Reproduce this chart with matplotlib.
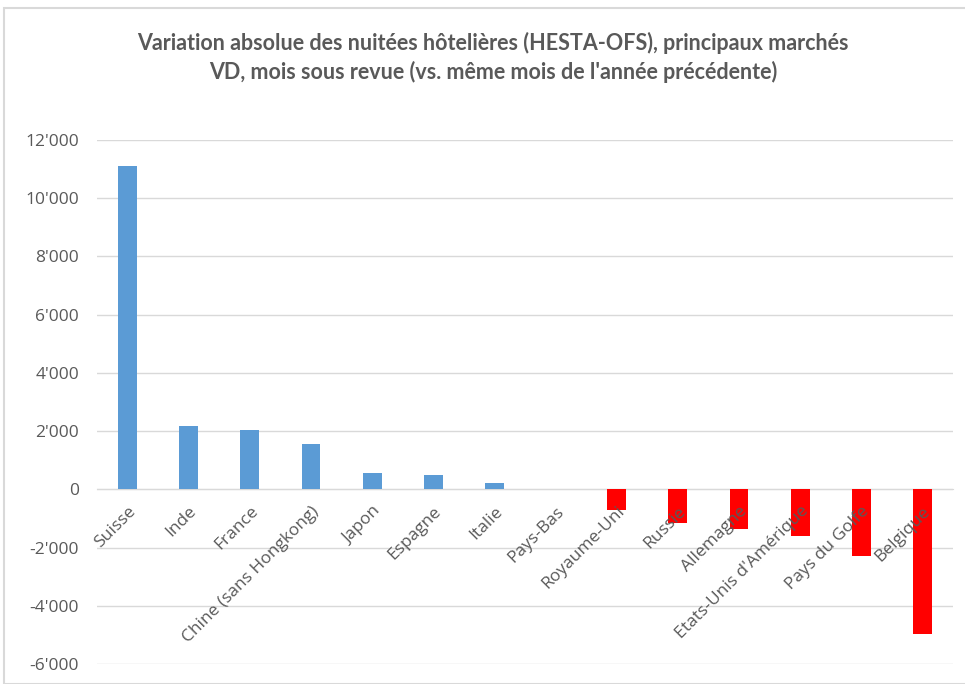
import matplotlib.pyplot as plt
from matplotlib.patches import Rectangle
from matplotlib.ticker import FuncFormatter

#################################################
# Data.
markets = ['Suisse', 'Inde', 'France', 'Chine (sans Hongkong)', 'Japon',
           'Espagne', 'Italie', 'Pays-Bas', 'Royaume-Uni', 'Russie',
           'Allemagne', "Etats-Unis d'Amérique", 'Pays du Golfe', 'Belgique']
variation = [11100, 2160, 2050, 1570, 570, 500, 205, 10, -710, -1170,
             -1350, -1600, -2300, -4960]

title = ("Variation absolue des nuitées hôtelières (HESTA-OFS), principaux marchés\n"
         "VD, mois sous revue (vs. même mois de l'année précédente)")

#################################################
# Display.
grey_txt = '#595959'
grey_grid = '#d9d9d9'

fig = plt.figure(figsize=(9.65, 6.84), dpi=100)
ax = fig.add_axes([97 / 965, 20 / 684, 856 / 965, 524 / 684])

colors = ['#5B9BD5' if v >= 0 else '#FF0000' for v in variation]
xs = list(range(len(markets)))
ax.bar(xs, variation, width=0.31, color=colors, zorder=2)

ax.set_xlim(-0.5, len(markets) - 0.5)
ax.set_ylim(-6000, 12000)
ax.set_yticks(range(-6000, 12001, 2000))
ax.yaxis.set_major_formatter(FuncFormatter(
    lambda v, p: '0' if v == 0 else "{:,.0f}".format(v).replace(',', "'")))
ax.grid(axis='y', color=grey_grid, linewidth=1, zorder=0)
ax.yaxis.set_zorder(0)
ax.tick_params(axis='y', length=0, pad=13, labelsize=12.5, labelcolor=grey_txt)

for s in ['top', 'right', 'left']:
    ax.spines[s].set_visible(False)
ax.spines['bottom'].set_position(('data', 0))
ax.spines['bottom'].set_color(grey_grid)
ax.spines['bottom'].set_zorder(1)

ax.set_xticks(xs)
ax.set_xticklabels(markets, rotation=45, ha='right', va='top',
                   rotation_mode='anchor')
ax.xaxis.set_zorder(4)
ax.tick_params(axis='x', length=0, pad=10, labelsize=12.5, labelcolor=grey_txt)
for lab in ax.get_xticklabels() + ax.get_yticklabels():
    lab.set_fontfamily('Open Sans')

fig.text(0.511, 0.953, title, ha='center', va='top', fontsize=15.5,
         fontweight='bold', color=grey_txt, family='Lato', linespacing=1.35)

fig.patches.append(Rectangle((4 / 965, 0), 1.0, 1 - 8 / 684,
                             transform=fig.transFigure, fill=False,
                             edgecolor=grey_grid, linewidth=1.5))

fig.savefig('out.png', dpi=100)
